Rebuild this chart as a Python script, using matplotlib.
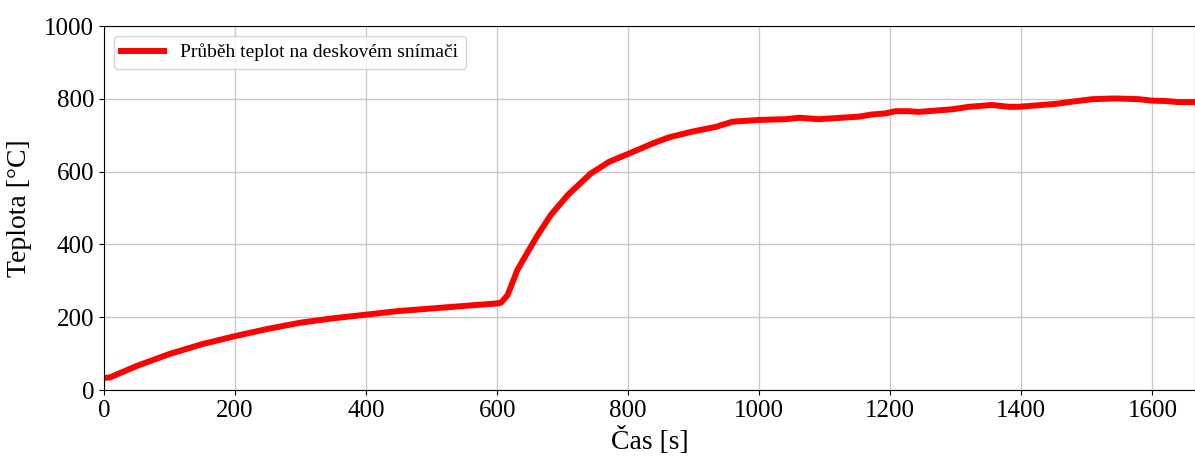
import numpy as np
import matplotlib
matplotlib.use("Agg")
import matplotlib.pyplot as plt

# Temperature record from the plate sensor
cas = [0, 10, 25, 50, 100, 150, 200, 250, 300, 350, 400, 450, 500, 550, 600, 606,
       616, 631, 647, 662, 682, 708, 743, 771, 799, 837, 862, 898, 934, 959, 1000,
       1040, 1061, 1091, 1152, 1172, 1193, 1208, 1228, 1243, 1294, 1320, 1355,
       1381, 1396, 1452, 1477, 1508, 1543, 1579, 1599, 1619, 1640, 1663]
teplota = [33, 35, 47, 66, 99, 126, 148, 168, 185, 197, 207, 217, 224, 231, 238, 240,
           261, 330, 380, 426, 481, 536, 595, 627, 648, 677, 694, 710, 723, 737, 742,
           744, 748, 744, 751, 757, 760, 766, 766, 764, 771, 778, 783,
           778, 778, 786, 792, 799, 801, 799, 795, 794, 791, 791]

x_ticks = [0, 200, 400, 600, 800, 1000, 1200, 1400, 1600]
y_ticks = [0, 200, 400, 600, 800, 1000]

plt.rcParams['font.family'] = ['Liberation Serif', 'DejaVu Serif']

fig = plt.figure(figsize=(11.95, 4.57), dpi=100)
ax = fig.add_axes([0.087, 0.1466, 0.913, 0.7965])

ax.plot(cas, teplota, color="red", linewidth=4.3, label="Průběh teplot na deskovém snímači")

ax.set_xlim(0, 1665)
ax.set_ylim(0, 1000)
ax.set_xticks(x_ticks)
ax.set_yticks(y_ticks)
ax.tick_params(labelsize=18)
ax.grid(True, color="#c8c8c8", linewidth=1.0)
ax.set_axisbelow(True)

ax.set_xlabel("Čas [s]", fontsize=20, labelpad=4)
ax.set_ylabel("Teplota [°C]", fontsize=20, labelpad=9)

ax.legend(loc="upper left", fontsize=14, framealpha=0.8, handlelength=2.2)

fig.savefig("out.png", dpi=100)
